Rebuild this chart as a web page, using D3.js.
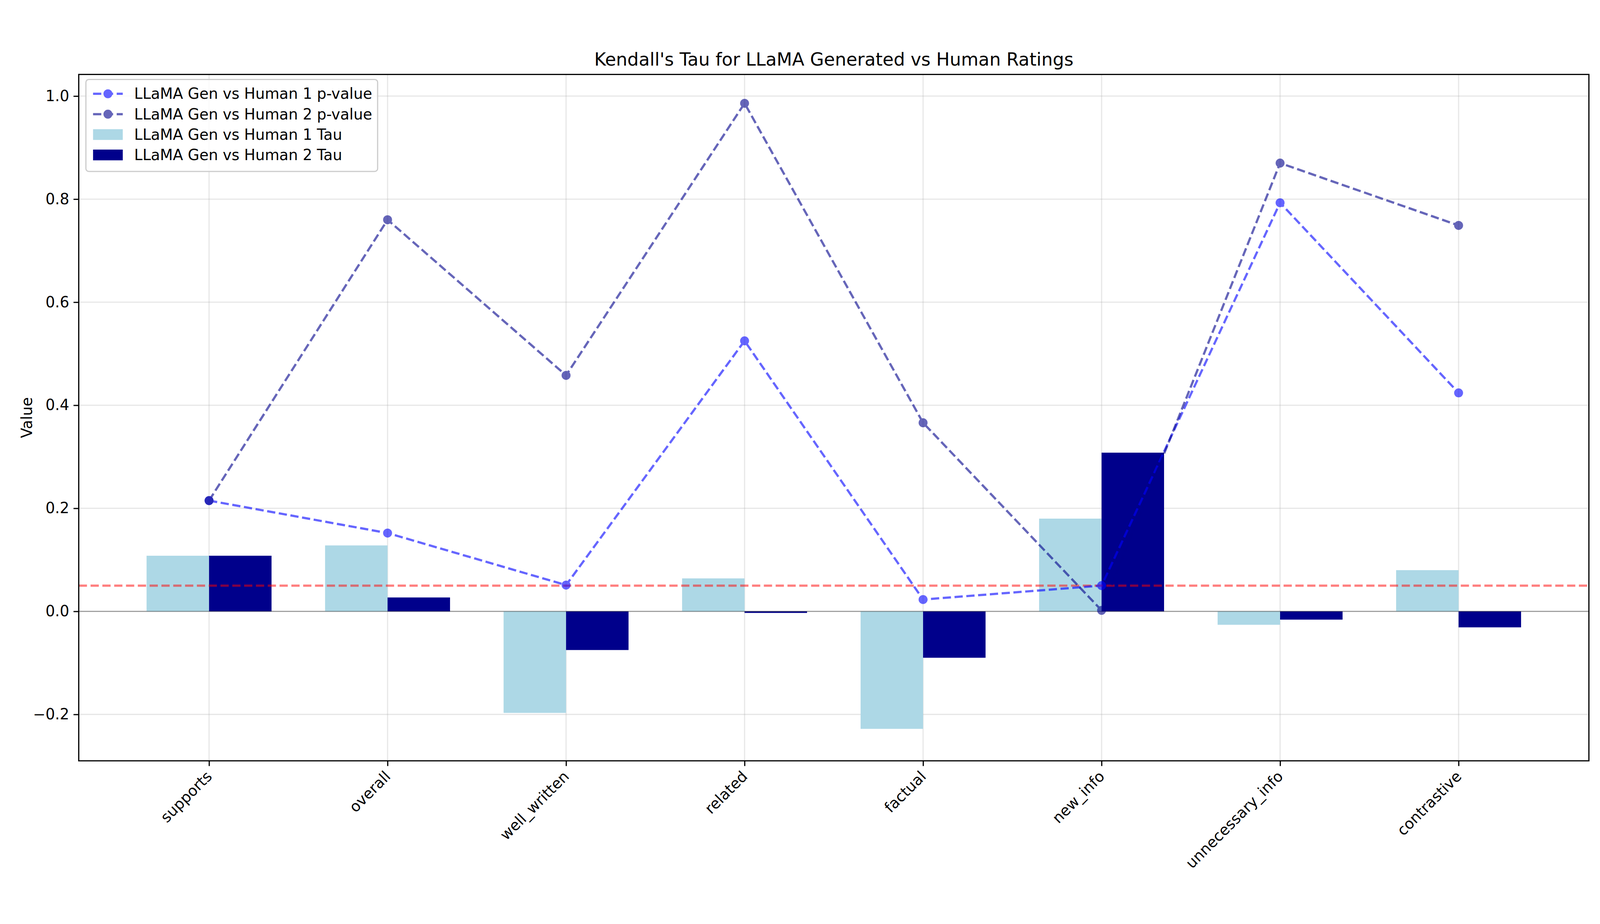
<!DOCTYPE html>
<html><head><meta charset="utf-8">
<script src="https://cdn.jsdelivr.net/npm/d3@7"></script>
<style>html,body{margin:0;padding:0;background:#fff;overflow:hidden}svg{display:block;width:100vw;height:100vh}</style>
</head><body><svg id="chart"></svg>
<script>
const categories = ["supports","overall","well_written","related","factual","new_info","unnecessary_info","contrastive"];
const tau1 = [0.108,0.128,-0.197,0.064,-0.228,0.180,-0.026,0.080];
const tau2 = [0.108,0.027,-0.075,-0.003,-0.090,0.308,-0.016,-0.031];
const p1 = [0.215,0.152,0.051,0.525,0.023,0.050,0.793,0.424];
const p2 = [0.215,0.760,0.458,0.986,0.366,0.002,0.870,0.749];
const yTicks = [-0.2,0,0.2,0.4,0.6,0.8,1.0];

const W = 4470, H = 2366;
const m = {left:220, right:W-4439, top:100, bottom:H-2018};
const svg = d3.select("#chart").attr("viewBox",[0,0,W,H])
  .style("font-family","DejaVu Sans, sans-serif");

const x = d3.scaleLinear().domain([-0.73,7.73]).range([m.left, W-m.right]);
const y = d3.scaleLinear().domain([-0.29,1.042]).range([H-m.bottom, m.top]);
const bw = x(0.35)-x(0);

// grid
const g = svg.append("g");
g.selectAll(".gy").data(yTicks).enter().append("line")
  .attr("x1",m.left).attr("x2",W-m.right).attr("y1",d=>y(d)).attr("y2",d=>y(d))
  .attr("stroke","#b0b0b0").attr("stroke-opacity",0.3).attr("stroke-width",3.3);
g.selectAll(".gx").data(categories).enter().append("line")
  .attr("x1",(d,i)=>x(i)).attr("x2",(d,i)=>x(i)).attr("y1",m.top).attr("y2",H-m.bottom)
  .attr("stroke","#b0b0b0").attr("stroke-opacity",0.3).attr("stroke-width",3.3);

// bars
svg.append("g").selectAll("rect").data(tau1).enter().append("rect")
  .attr("x",(d,i)=>x(i)-bw).attr("width",bw)
  .attr("y",d=>y(Math.max(0,d))).attr("height",d=>Math.abs(y(d)-y(0)))
  .attr("fill","#add8e6");
svg.append("g").selectAll("rect").data(tau2).enter().append("rect")
  .attr("x",(d,i)=>x(i)).attr("width",bw)
  .attr("y",d=>y(Math.max(0,d))).attr("height",d=>Math.abs(y(d)-y(0)))
  .attr("fill","#00008b");

// reference lines
svg.append("line").attr("x1",m.left).attr("x2",W-m.right).attr("y1",y(0.05)).attr("y2",y(0.05))
  .attr("stroke","red").attr("stroke-opacity",0.5).attr("stroke-width",6.25).attr("stroke-dasharray","23,10");
svg.append("line").attr("x1",m.left).attr("x2",W-m.right).attr("y1",y(0)).attr("y2",y(0))
  .attr("stroke","black").attr("stroke-opacity",0.3).attr("stroke-width",3.3);

// p-value lines
function pline(vals,color){
  const gg = svg.append("g").attr("opacity",0.6);
  gg.append("path").datum(vals)
    .attr("d",d3.line().x((d,i)=>x(i)).y(d=>y(d)))
    .attr("fill","none").attr("stroke",color).attr("stroke-width",6.25).attr("stroke-dasharray","23,10");
  gg.selectAll("circle").data(vals).enter().append("circle")
    .attr("cx",(d,i)=>x(i)).attr("cy",d=>y(d)).attr("r",12.5).attr("fill",color);
}
pline(p1,"blue");
pline(p2,"#00008b");

// axes
const yAxis = svg.append("g").attr("transform",`translate(${m.left},0)`)
  .call(d3.axisLeft(y).tickValues(yTicks).tickFormat(d=>d3.format(".1f")(d).replace("-","\u2212")).tickSize(14.6).tickPadding(12));
const xAxis = svg.append("g").attr("transform",`translate(0,${H-m.bottom})`)
  .call(d3.axisBottom(x).tickValues(d3.range(categories.length)).tickFormat(i=>categories[i]).tickSize(14.6));
[xAxis,yAxis].forEach(a=>{
  a.select(".domain").remove();
  a.selectAll("line").attr("stroke","black").attr("stroke-width",3.3);
  a.selectAll("text").attr("font-size",41.7).attr("fill","black").attr("font-family","DejaVu Sans, sans-serif");
});
xAxis.selectAll("text").attr("text-anchor","end").attr("dy","0.35em")
  .attr("transform","translate(0,36) rotate(-45)").attr("y",0).attr("x",0);

svg.append("rect").attr("x",m.left).attr("y",m.top).attr("width",W-m.left-m.right).attr("height",H-m.top-m.bottom)
  .attr("fill","none").attr("stroke","black").attr("stroke-width",3.3);

svg.append("text").attr("x",(m.left+W-m.right)/2).attr("y",m.top-25).attr("text-anchor","middle")
  .attr("font-size",50).text("Kendall's Tau for LLaMA Generated vs Human Ratings");
svg.append("text").attr("transform",`translate(${m.left-130},${(m.top+H-m.bottom)/2}) rotate(-90)`)
  .attr("text-anchor","middle").attr("font-size",41.7).text("Value");

// legend
const leg = svg.append("g").attr("transform",`translate(240,114)`);
leg.append("rect").attr("width",815).attr("height",257).attr("rx",8).attr("fill","white").attr("fill-opacity",0.8)
  .attr("stroke","#ccc").attr("stroke-width",3.3);
const items = [
  {t:"LLaMA Gen vs Human 1 p-value",type:"line",c:"blue"},
  {t:"LLaMA Gen vs Human 2 p-value",type:"line",c:"#00008b"},
  {t:"LLaMA Gen vs Human 1 Tau",type:"bar",c:"#add8e6"},
  {t:"LLaMA Gen vs Human 2 Tau",type:"bar",c:"#00008b"}
];
items.forEach((it,i)=>{
  const cy = 40+i*57;
  const r = leg.append("g").attr("transform",`translate(20,${cy})`);
  if(it.type==="line"){
    const gg=r.append("g").attr("opacity",0.6);
    gg.append("line").attr("x1",0).attr("x2",83).attr("stroke",it.c).attr("stroke-width",6.25).attr("stroke-dasharray","23,10");
    gg.append("circle").attr("cx",41.5).attr("r",12.5).attr("fill",it.c);
  } else {
    r.append("rect").attr("x",0).attr("y",-15).attr("width",83).attr("height",30).attr("fill",it.c);
  }
  r.append("text").attr("x",115).attr("dy","0.35em").attr("font-size",41.7).text(it.t);
});
</script></body></html>
